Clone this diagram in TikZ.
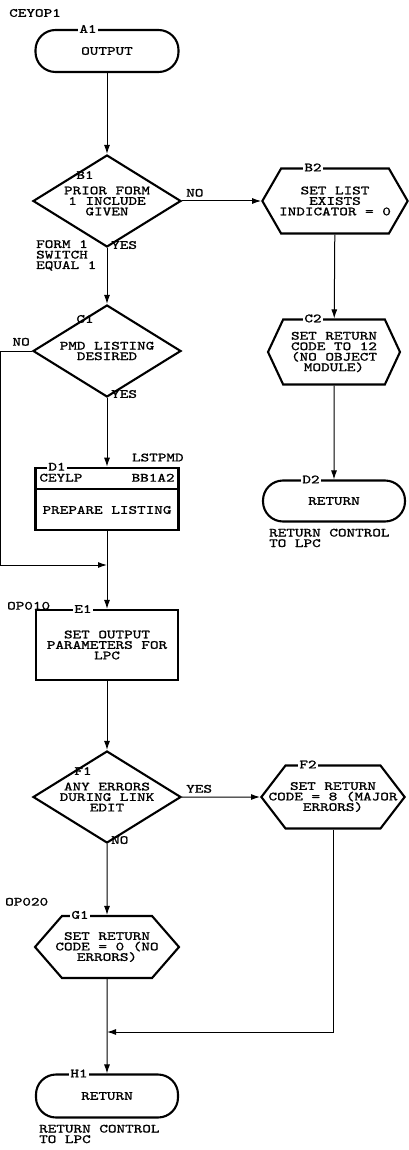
\documentclass[tikz,border=0pt]{standalone}
\usepackage{fontspec}
\newfontfamily\ibmfont{lmmono10-regular.otf}[FakeStretch=1.31, FakeBold=1.2]
\newcommand{\ibmtext}{\ibmfont\fontsize{12.5}{10.5}\selectfont}
\usetikzlibrary{arrows.meta,positioning,shapes.geometric,shapes.symbols}

\begin{document}
\begin{tikzpicture}[x=1pt, y=-1pt,
    every node/.style={font=\ibmtext, align=center},
    term/.style={rectangle, rounded corners=20pt, draw, line width=2.1pt, minimum width=143pt, minimum height=42pt},
    deci/.style={diamond, draw, line width=2.1pt, aspect=1.6, inner sep=0pt, minimum width=148pt, minimum height=92pt},
    proc/.style={rectangle, draw, line width=2.1pt, minimum width=142pt, minimum height=70pt},
    hexa/.style={signal, signal to=west and east, draw, line width=2.1pt, inner sep=1pt},
    tag/.style={fill=white, inner sep=1pt},
    note/.style={align=left, inner sep=0pt},
    flow/.style={line width=1pt, -{Latex[length=9pt, width=6pt]}}
  ]
  \useasboundingbox (0,0) rectangle (409,1150);
  \node[note, anchor=west] (title) at (9,13) {CEYOP1};

  % main column
  \node[term] (A1) at (107,51) {OUTPUT};
  \node[tag] (a1) at ([xshift=-19pt]A1.north) {A1};

  \node[deci] (B1) at (107,201) {PRIOR FORM\\1 INCLUDE\\GIVEN};
  \node[inner sep=0pt] (b1) at ([shift={(-22,-26)}]B1.center) {B1};
  \node[note, anchor=south west] (b1no) at ([shift={(4,-4)}]B1.east) {NO};
  \node[note, anchor=west] (b1yes) at ([shift={(4,-3)}]B1.south) {YES};
  \node[note, anchor=north west] (b1sw) at (36,240) {FORM 1\\SWITCH\\EQUAL 1};

  \node[deci] (C1) at (107,351) {PMD LISTING\\DESIRED};
  \node[inner sep=0pt] (c1) at ([shift={(-22,-32)}]C1.center) {C1};
  \node[note, anchor=south east] (c1no) at ([shift={(-2,-5)}]C1.west) {NO};
  \node[note, anchor=west] (c1yes) at ([shift={(4,-4)}]C1.south) {YES};

  \node[rectangle, draw, line width=2.6pt, minimum width=143pt, minimum height=62pt] (D1) at (107,499) {};
  \draw[line width=2.1pt] ([shift={(0,22)}]D1.north west) -- ([shift={(0,22)}]D1.north east);
  \node[note, anchor=west] (d1l) at ([shift={(5,11)}]D1.north west) {CEYLP};
  \node[note, anchor=east] (d1r) at ([shift={(-5,11)}]D1.north east) {BB1A2};
  \node (d1t) at ([shift={(0,11)}]D1.center) {PREPARE LISTING};
  \node[tag] (d1) at ([xshift=-50pt]D1.north) {D1};
  \node[note, anchor=south east] (lst) at ([shift={(4,-5)}]D1.north east) {LSTPMD};

  \node[proc] (E1) at (107,645) {SET OUTPUT\\PARAMETERS FOR\\LPC};
  \node[tag] (e1) at ([xshift=-24pt]E1.north) {E1};
  \node[note, anchor=south west] (op010) at ([shift={(-28,1)}]E1.north west) {OP010};

  \node[deci] (F1) at (107,797) {ANY ERRORS\\DURING LINK\\EDIT};
  \node[inner sep=0pt] (f1) at ([shift={(-24,-26)}]F1.center) {F1};
  \node[note, anchor=south west] (f1yes) at ([shift={(4,-4)}]F1.east) {YES};
  \node[note, anchor=west] (f1no) at ([shift={(4,-4)}]F1.south) {NO};

  \node[hexa, minimum width=144pt, minimum height=62pt, signal pointer angle=98, inner xsep=-7pt] (G1) at (107,947) {SET RETURN\\CODE = 0 (NO\\ERRORS)};
  \node[tag] (g1) at ([xshift=-27pt]G1.north) {G1};
  \node[note, anchor=south west] (op020) at ([shift={(-102,-9)}]G1.north) {OP020};

  \node[term, minimum width=142pt, minimum height=43pt] (H1) at (107,1096) {RETURN};
  \node[tag] (h1) at ([xshift=-28pt]H1.north) {H1};
  \node[note, anchor=north west] (h1n) at ([shift={(4,6)}]H1.south west) {RETURN CONTROL\\TO LPC};

  % right column
  \node[hexa, minimum width=145pt, minimum height=65pt, signal pointer angle=120, inner xsep=-2pt] (B2) at (335,201) {SET LIST\\EXISTS\\INDICATOR = 0};
  \node[tag] (b2) at ([xshift=-22pt]B2.north) {B2};

  \node[hexa, minimum width=132pt, minimum height=65pt, signal pointer angle=130] (C2) at (334,352) {SET RETURN\\CODE TO 12\\(NO OBJECT\\MODULE)};
  \node[tag] (c2) at ([xshift=-21pt]C2.north) {C2};

  \node[term, minimum width=142pt, minimum height=41pt] (D2) at (334,501) {RETURN};
  \node[tag] (d2) at ([xshift=-23pt]D2.north) {D2};
  \node[note, anchor=north west] (d2n) at ([shift={(7,6)}]D2.south west) {RETURN CONTROL\\TO LPC};

  \node[hexa, minimum width=141pt, minimum height=63pt, signal pointer angle=105, inner xsep=-17pt] (F2) at (333,797) {SET RETURN\\CODE = 8 (MAJOR\\ERRORS)};
  \node[tag] (f2) at ([xshift=-25pt]F2.north) {F2};

  % joins on the main line
  \coordinate (j1) at (107,565);
  \coordinate (j2) at (107,1032);

  % connectors
  \draw[flow] (A1) -- (B1);
  \draw[flow] (B1.east) -- (B2.west);
  \draw[flow] (B1) -- (C1);
  \draw[flow] (C1) -- (D1);
  \draw[flow] (C1.west) -- ++(-31,0) |- (j1);
  \draw[flow] (D1) -- (E1);
  \draw[flow] (E1) -- (F1);
  \draw[flow] (F1) -- (F2);
  \draw[flow] (F1) -- (G1);
  \draw[flow] (G1) -- (H1);
  \draw[flow] (F2.south) |- (j2);
  \draw[flow] (B2) -- (C2);
  \draw[flow] (C2) -- (D2);
\end{tikzpicture}
\end{document}
